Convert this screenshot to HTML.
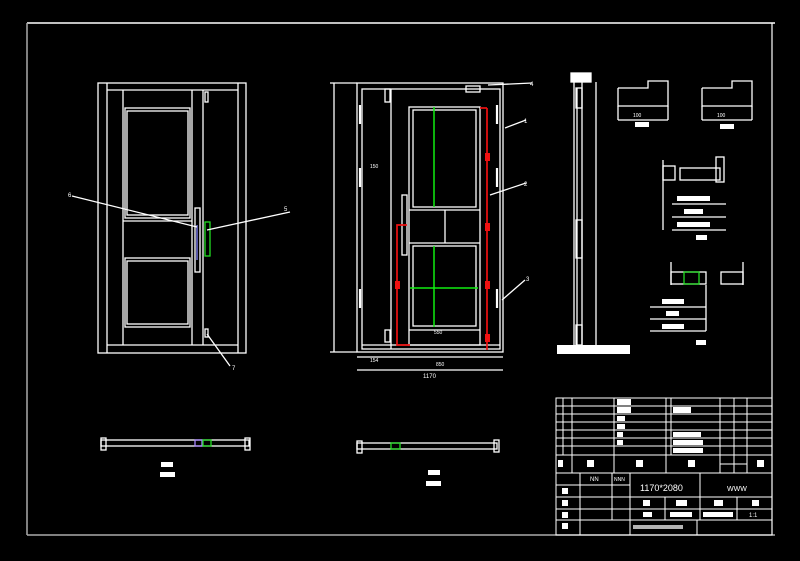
<!DOCTYPE html>
<html><head><meta charset="utf-8"><style>
html,body{margin:0;padding:0;background:#000;}
svg{display:block;font-family:"Liberation Sans","Noto Sans CJK SC",sans-serif;}
</style></head><body>
<svg width="800" height="561" viewBox="0 0 800 561" xmlns="http://www.w3.org/2000/svg">
<rect width="800" height="561" fill="#000"/>
<g fill="none" stroke="#fff" stroke-width="1.3">
<line x1="27" y1="23" x2="775" y2="23" stroke-width="1.5"/>
<line x1="27" y1="23" x2="27" y2="535" stroke="#aaa" stroke-width="1.5"/>
<line x1="27" y1="535" x2="775" y2="535" stroke="#aaa" stroke-width="1.5"/>
<line x1="772" y1="23" x2="772" y2="535" stroke-width="1.2"/>

<rect x="98" y="83" width="148" height="270"/>
<line x1="107" y1="83" x2="107" y2="353"/>
<line x1="238" y1="83" x2="238" y2="353"/>
<line x1="107" y1="90" x2="238" y2="90"/>
<line x1="107" y1="345" x2="238" y2="345"/>
<line x1="123" y1="90" x2="123" y2="345"/>
<line x1="192" y1="90" x2="192" y2="345"/>
<line x1="203" y1="90" x2="203" y2="345"/>
<rect x="125" y="108" width="65" height="110"/>
<rect x="127" y="111" width="61" height="104"/>
<line x1="123" y1="221" x2="192" y2="221"/>
<rect x="125" y="258" width="65" height="69"/>
<rect x="127" y="261" width="61" height="63"/>
<rect x="195" y="208" width="5" height="64"/>
<line x1="197" y1="225" x2="197" y2="260" stroke="#88f"/>
<rect x="205" y="222" width="5" height="34" stroke="#2d2"/>
<line x1="72" y1="196" x2="197" y2="227"/>
<line x1="290" y1="212" x2="207" y2="230"/>
<rect x="205" y="92" width="3" height="10"/>
<rect x="205" y="329" width="3" height="8"/>
<line x1="207" y1="334" x2="230" y2="366"/>

<line x1="334" y1="83" x2="334" y2="352"/>
<line x1="330" y1="83" x2="357" y2="83"/>
<line x1="330" y1="352" x2="357" y2="352"/>
<rect x="357" y="83" width="146" height="269"/>
<rect x="362" y="89" width="138" height="260"/>
<line x1="391" y1="89" x2="391" y2="349"/>
<line x1="362" y1="345" x2="500" y2="345"/>
<rect x="409" y="107" width="71" height="238"/>
<rect x="413" y="110" width="63" height="97"/>
<line x1="409" y1="210" x2="480" y2="210"/>
<line x1="409" y1="243" x2="480" y2="243"/>
<rect x="413" y="246" width="63" height="80"/>
<line x1="409" y1="330" x2="480" y2="330"/>
<line x1="445" y1="210" x2="445" y2="243"/>
<rect x="402" y="195" width="5" height="60"/>
<rect x="385" y="89" width="5" height="13"/>
<rect x="385" y="330" width="5" height="12"/>
<rect x="466" y="86" width="14" height="6"/>
<g stroke-width="2.2">
<line x1="360" y1="105" x2="360" y2="124"/><line x1="360" y1="168" x2="360" y2="187"/><line x1="360" y1="289" x2="360" y2="308"/>
<line x1="497" y1="105" x2="497" y2="124"/><line x1="497" y1="168" x2="497" y2="187"/><line x1="497" y1="289" x2="497" y2="308"/>
</g>
<line x1="357" y1="357" x2="503" y2="357"/>
<line x1="357" y1="370" x2="503" y2="370"/>
<line x1="488" y1="85" x2="532" y2="83"/>
<line x1="505" y1="128" x2="526" y2="120"/>
<line x1="490" y1="195" x2="526" y2="183"/>
<line x1="502" y1="300" x2="525" y2="280"/>
</g>
<g fill="none" stroke="#1e1" stroke-width="1.5">
<line x1="434" y1="107" x2="434" y2="207"/>
<line x1="434" y1="246" x2="434" y2="327"/>
<line x1="410" y1="288" x2="478" y2="288"/>
</g>
<g fill="none" stroke="#e11" stroke-width="1.7">
<line x1="487" y1="108" x2="487" y2="350"/>
<line x1="480" y1="108" x2="487" y2="108"/>
<polyline points="407,225 397,225 397,345 410,345"/>
</g>
<g fill="#e11">
<rect x="485" y="153" width="5" height="8"/><rect x="485" y="223" width="5" height="8"/>
<rect x="485" y="281" width="5" height="8"/><rect x="485" y="334" width="5" height="8"/>
<rect x="395" y="281" width="5" height="8"/>
</g>

<g fill="none" stroke="#fff" stroke-width="1.3">
<rect x="571" y="73" width="20" height="9" fill="#fff"/>
<line x1="574" y1="82" x2="574" y2="345"/>
<line x1="577" y1="88" x2="577" y2="345"/>
<line x1="582" y1="82" x2="582" y2="345"/>
<line x1="596" y1="82" x2="596" y2="345"/>
<rect x="576" y="88" width="6" height="20"/>
<rect x="576" y="220" width="6" height="38"/>
<rect x="576" y="325" width="6" height="20"/>
<rect x="557" y="345" width="73" height="9" fill="#fff" stroke="none"/>
<polyline points="618,88 618,106 668,106 668,81 648,81 648,88 618,88"/>
<line x1="618" y1="106" x2="618" y2="120"/><line x1="668" y1="106" x2="668" y2="120"/><line x1="618" y1="120" x2="668" y2="120"/>
<polyline points="702,88 702,106 752,106 752,81 732,81 732,88 702,88"/>
<line x1="702" y1="106" x2="702" y2="120"/><line x1="752" y1="106" x2="752" y2="120"/><line x1="702" y1="120" x2="752" y2="120"/>
<line x1="663" y1="160" x2="663" y2="230"/>
<rect x="663" y="166" width="12" height="14"/>
<rect x="680" y="168" width="40" height="12"/>
<rect x="716" y="157" width="8" height="25"/>
<line x1="672" y1="204" x2="726" y2="204"/><line x1="672" y1="217" x2="726" y2="217"/><line x1="672" y1="230" x2="726" y2="230"/>
<line x1="671" y1="262" x2="671" y2="285"/>
<rect x="671" y="272" width="35" height="12"/>
<rect x="684" y="272" width="15" height="12" stroke="#2d2"/>
<rect x="721" y="272" width="22" height="12"/>
<line x1="743" y1="262" x2="743" y2="285"/>
<line x1="650" y1="307" x2="706" y2="307"/><line x1="650" y1="319" x2="706" y2="319"/><line x1="650" y1="331" x2="706" y2="331"/>
<line x1="706" y1="285" x2="706" y2="331"/>

<rect x="101" y="440" width="148" height="6"/>
<rect x="101" y="438" width="5" height="12"/><rect x="245" y="438" width="5" height="12"/>
<rect x="195" y="440" width="7" height="6" stroke="#a8f"/>
<rect x="203" y="440" width="8" height="6" stroke="#2d2"/>
<rect x="357" y="443" width="140" height="6"/>
<rect x="357" y="441" width="5" height="12"/><rect x="494" y="440" width="5" height="12"/>
<rect x="391" y="443" width="9" height="6" stroke="#2d2"/>
</g>
<g fill="#fff">
<rect x="161" y="462" width="12" height="5"/><rect x="160" y="472" width="15" height="5"/>
<rect x="428" y="470" width="12" height="5"/><rect x="426" y="481" width="15" height="5"/>
<rect x="635" y="122" width="14" height="5"/><rect x="720" y="124" width="14" height="5"/>
<rect x="677" y="196" width="33" height="5"/><rect x="684" y="209" width="19" height="5"/><rect x="677" y="222" width="33" height="5"/>
<rect x="696" y="235" width="11" height="5"/>
<rect x="662" y="299" width="22" height="5"/><rect x="666" y="311" width="13" height="5"/><rect x="662" y="324" width="22" height="5"/>
<rect x="696" y="340" width="10" height="5"/>
</g>
<g fill="#fff" font-size="6">
<text x="68" y="197">6</text><text x="284" y="211">5</text><text x="232" y="370">7</text>
<text x="530" y="86">4</text><text x="524" y="123">1</text><text x="524" y="186">2</text><text x="526" y="281">3</text>
<text x="436" y="366" font-size="5">850</text><text x="423" y="378" font-size="6">1170</text>
<text x="370" y="362" font-size="5">154</text><text x="434" y="334" font-size="5">550</text>
<text x="370" y="168" font-size="5">150</text>
<text x="633" y="117" font-size="5">100</text><text x="717" y="117" font-size="5">100</text>
</g>

<g fill="none" stroke="#fff" stroke-width="1">
<rect x="556" y="398" width="216" height="137"/>
<line x1="556" y1="406" x2="772" y2="406"/><line x1="556" y1="414" x2="772" y2="414"/>
<line x1="556" y1="422" x2="772" y2="422"/><line x1="556" y1="430" x2="772" y2="430"/>
<line x1="556" y1="438" x2="772" y2="438"/><line x1="556" y1="446" x2="772" y2="446"/>
<line x1="556" y1="455" x2="772" y2="455"/>
<line x1="556" y1="473" x2="772" y2="473"/>
<line x1="563" y1="398" x2="563" y2="455"/><line x1="572" y1="398" x2="572" y2="473"/>
<line x1="614" y1="398" x2="614" y2="473"/><line x1="666" y1="398" x2="666" y2="473"/>
<line x1="671" y1="398" x2="671" y2="455"/><line x1="720" y1="398" x2="720" y2="473"/>
<line x1="734" y1="398" x2="734" y2="473"/><line x1="747" y1="398" x2="747" y2="473"/>
<line x1="720" y1="464" x2="747" y2="464"/>
<line x1="580" y1="473" x2="580" y2="535"/><line x1="612" y1="473" x2="612" y2="520"/>
<line x1="630" y1="473" x2="630" y2="535"/>
<line x1="556" y1="485" x2="630" y2="485"/><line x1="556" y1="497" x2="772" y2="497"/>
<line x1="556" y1="509" x2="772" y2="509"/><line x1="556" y1="520" x2="772" y2="520"/>
<line x1="700" y1="473" x2="700" y2="520"/><line x1="665" y1="497" x2="665" y2="520"/>
<line x1="737" y1="497" x2="737" y2="520"/><line x1="697" y1="520" x2="697" y2="535"/>
</g>
<g fill="#fff" font-size="9">
<text x="640" y="491">1170*2080</text>
<text x="727" y="491" font-size="7">WWW</text>
<text x="749" y="517" font-size="6">1:1</text>
<text x="590" y="481" font-size="6">NN</text><text x="614" y="481" font-size="5">NNN</text>
</g>
<g fill="#fff">
<rect x="617" y="399" width="14" height="6"/><rect x="617" y="407" width="14" height="6"/>
<rect x="617" y="416" width="8" height="5"/><rect x="617" y="424" width="8" height="5"/>
<rect x="617" y="432" width="6" height="5"/><rect x="617" y="440" width="6" height="5"/>
<rect x="673" y="407" width="18" height="6"/><rect x="673" y="432" width="28" height="5"/>
<rect x="673" y="440" width="30" height="5"/><rect x="673" y="448" width="30" height="5"/>
<rect x="558" y="460" width="5" height="7"/><rect x="587" y="460" width="7" height="7"/>
<rect x="636" y="460" width="7" height="7"/><rect x="688" y="460" width="7" height="7"/>
<rect x="757" y="460" width="7" height="7"/>
<rect x="562" y="488" width="6" height="6"/><rect x="562" y="500" width="6" height="6"/>
<rect x="562" y="512" width="6" height="6"/><rect x="562" y="523" width="6" height="6"/>
<rect x="643" y="500" width="7" height="6"/><rect x="676" y="500" width="11" height="6"/>
<rect x="714" y="500" width="9" height="6"/><rect x="752" y="500" width="7" height="6"/>
<rect x="643" y="512" width="9" height="5"/><rect x="670" y="512" width="22" height="5"/>
<rect x="703" y="512" width="30" height="5"/>
<rect x="633" y="525" width="50" height="4" opacity="0.7"/>
</g>
</svg>
</body></html>
